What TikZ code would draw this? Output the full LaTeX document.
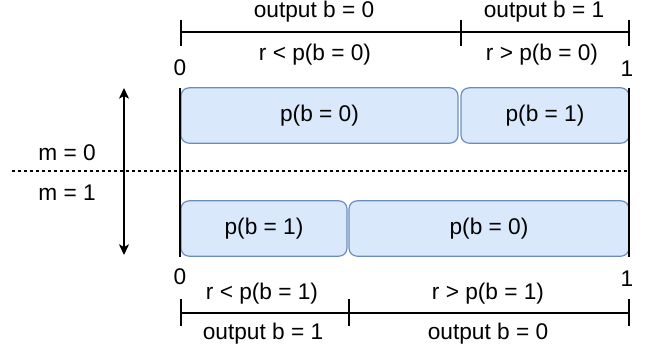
\documentclass[tikz,border=0pt]{standalone}
\usepackage{fontspec}
\setmainfont{Liberation Sans}
\usetikzlibrary{arrows.meta}
\definecolor{boxfill}{HTML}{DAE8FC}
\definecolor{boxline}{HTML}{6C8EBF}

\begin{document}
\begin{tikzpicture}[x=0.75pt,y=-0.75pt,font=\fontsize{17}{20}\selectfont]
    % Styles for boxes and lines
    \tikzset{
      box/.style={rectangle, rounded corners=6pt, draw=boxline, fill=boxfill, line width=0.9pt, minimum height=41.5pt, inner sep=0pt},
      bar/.style={line width=1pt},
      arrow/.style={line width=1pt,{Stealth[length=8pt,width=7.5pt,inset=2pt]}-{Stealth[length=8pt,width=7.5pt,inset=2pt]}}
    }
    \useasboundingbox (0,0) rectangle (651,351);

    % Probability boxes for m = 0 and m = 1
    \node[box, minimum width=207.75pt] (topzero) at (319.5,115.5) {p(b = 0)};
    \node[box, minimum width=126pt] (topone) at (545,115.5) {p(b = 1)};
    \node[box, minimum width=124.5pt] (botone) at (264,228.5) {p(b = 1)};
    \node[box, minimum width=210pt] (botzero) at (489,228.5) {p(b = 0)};

    % Interval edges and divider
    \draw[bar] (180,88) -- (180,257);
    \draw[bar] (629,88) -- (629,257);
    \draw[bar, dash pattern=on 2.25pt off 2.25pt] (12,171) -- (629,171);

    % Message side labels and arrow
    \node (mzero) at (67,153) {m = 0};
    \node (mone) at (67,193) {m = 1};
    \coordinate (up) at (124,88);
    \coordinate (down) at (124,255);
    \draw[arrow] (up) -- (down);

    % Top scale
    \coordinate (ta) at (181,32);
    \coordinate (tb) at (461,32);
    \coordinate (tc) at (629,32);
    \draw[bar] (ta) -- (tc);
    \foreach \p in {ta,tb,tc}
      \draw[bar] ([yshift=-10.5pt]\p) -- ([yshift=9pt]\p);
    \node (outtopzero) at (314,12) {output b = 0};
    \node (outtopone) at (544,12) {output b = 1};
    \node (rtoplow) at (315,55) {r < p(b = 0)};
    \node (rtophigh) at (542,55) {r > p(b = 0)};
    \node (topstart) at (180,68) {0};
    \node (topend) at (627,69) {1};

    % Bottom scale
    \coordinate (ba) at (181,313);
    \coordinate (bb) at (349,313);
    \coordinate (bc) at (629,313);
    \draw[bar] (ba) -- (bc);
    \foreach \p in {ba,bb,bc}
      \draw[bar] ([yshift=-10pt]\p) -- ([yshift=10.5pt]\p);
    \node (rbotlow) at (262,294) {r < p(b = 1)};
    \node (rbothigh) at (488,294) {r > p(b = 1)};
    \node (outbotone) at (263,334) {output b = 1};
    \node (outbotzero) at (488,334) {output b = 0};
    \node (botstart) at (180,277) {0};
    \node (botend) at (627,279) {1};

\end{tikzpicture}
\end{document}
